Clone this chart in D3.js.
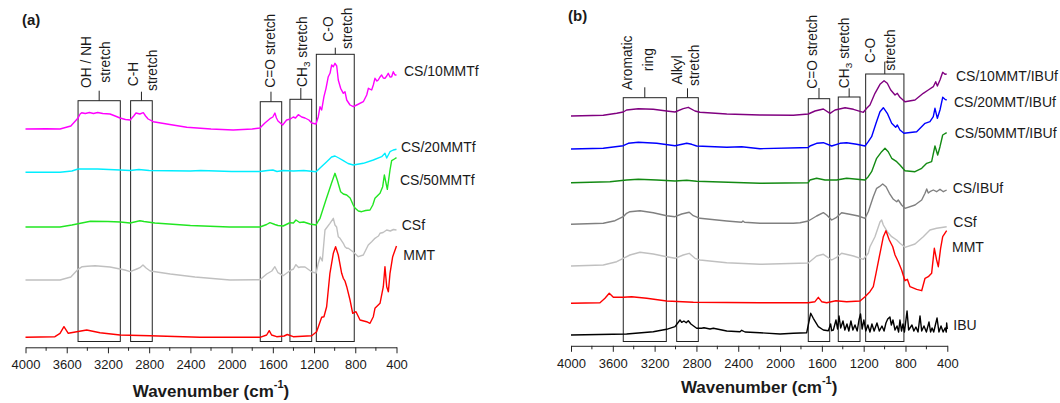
<!DOCTYPE html>
<html>
<head>
<meta charset="utf-8">
<script src="https://cdn.jsdelivr.net/npm/d3@7"></script>
<style>
  html, body { margin: 0; padding: 0; background: #fff; }
  svg { display: block; font-family: "Liberation Sans", Arial, Helvetica, sans-serif; }
</style>
</head>
<body>
<svg id="chart" width="1060" height="403"></svg>
<script>
// ---------------- data ----------------
// wavenumber axis (cm-1)
const majorTicks = [4000, 3600, 3200, 2800, 2400, 2000, 1600, 1200, 800, 400];
const minorTicks = [3800, 3400, 3000, 2600, 2200, 1800, 1400, 1000, 600];

// Panel (a): stacked FTIR spectra, [wavenumber, offset intensity (a.u.)]
const namesA = ["CS/10MMTf", "CS/20MMTf", "CS/50MMTf", "CSf", "MMT"];

const cs10mmtf = [[4000,218],[3800,218.3],[3665,218],[3560,221],[3490,229],[3470,233],[3455,234.3],[3420,233.5],[3380,234.5],[3340,233.5],[3300,234.5],[3250,233.5],[3180,233],[3130,231],[3083,229],[3030,227.5],[2985,227],[2950,231],[2928,234],[2890,233],[2857,234.3],[2835,231],[2810,228],[2760,225.3],[2600,222.5],[2435,219.7],[2200,218],[1985,217],[1800,218],[1725,219],[1677,224],[1628,228.3],[1600,230],[1580,234],[1565,229],[1550,226],[1505,222],[1466,227],[1430,228],[1402,230],[1380,229],[1353,232.3],[1320,230],[1288,229],[1250,227],[1223,224],[1181,223],[1159,230.3],[1142,240.3],[1126,237],[1104,250.3],[1084,258.7],[1062,270.3],[1045,273.7],[1029,282],[1013,280.3],[997,283.7],[980,281],[965,267],[942,258.7],[916,253.7],[900,255.3],[883,247],[851,242],[819,240.3],[786,242],[722,245.3],[689,252],[673,258.7],[641,257],[625,262],[609,268.7],[590,266],[577,267],[560,270],[544,272],[528,269],[512,268.7],[495,271],[480,273.7],[463,270],[447,270.3],[431,275.3],[415,272],[400,272]];

const cs20mmtf = [[4000,174.7],[3665,174.7],[3550,176],[3490,178],[3300,178],[3083,177],[2985,176.5],[2900,177.5],[2800,176.5],[2400,176],[2300,176.5],[2000,175.5],[1725,175.5],[1650,176.5],[1600,177],[1560,175.5],[1500,176.5],[1400,176],[1300,176.5],[1180,175.3],[1142,179],[1077,185.3],[1030,190],[997,191],[960,189],[916,186.3],[870,183.5],[819,182],[722,183.7],[625,187],[544,190.3],[512,193.7],[495,189],[463,195.3],[431,197],[400,197.7]];

const cs50mmtf = [[4000,120],[3665,120],[3550,122],[3370,125.7],[3200,125.5],[3080,125],[2985,124],[2890,126.3],[2850,125.5],[2745,124],[2400,121.5],[2020,120],[1725,120],[1660,122.5],[1628,124.3],[1580,122.5],[1550,121.5],[1500,121],[1450,123.5],[1434,124.3],[1400,124],[1376,127],[1340,124.5],[1300,125],[1240,123],[1180,122],[1159,126],[1142,128.7],[1085,147],[1030,164],[997,173.7],[975,167],[942,155.3],[916,153],[883,152],[850,149],[820,142],[803,139],[770,136],[738,135.3],[700,136.5],[657,137],[630,142],[609,148.7],[560,153.7],[534,160.3],[518,172],[489,157.7],[463,177],[447,186.3],[420,188],[400,189.3]];

const csfA = [[4000,67],[3665,67],[3560,70],[3490,77.7],[3450,80.3],[3400,80.8],[3325,81.3],[3180,80],[3035,77],[2985,75.3],[2920,78],[2890,79.3],[2860,82],[2830,79],[2790,76],[2595,73],[2355,70],[2015,67],[1725,67.3],[1660,73],[1610,76],[1580,80.3],[1550,74.3],[1500,71.3],[1434,76.3],[1400,78],[1376,82.3],[1350,79.5],[1330,80],[1288,80],[1220,75],[1180,74],[1159,83.7],[1140,90],[1120,86],[1094,117],[1046,123.7],[1013,128.7],[997,122],[981,120],[965,110.3],[948,108.7],[916,103.7],[900,100.3],[883,98.7],[868,98.7],[819,95],[771,90.3],[722,92],[674,102],[641,105.3],[609,108.7],[590,110],[575,111],[560,113.7],[530,114.5],[495,117],[460,116],[430,117.5],[400,117]];

const mmtA = [[4000,9.7],[3714,10.3],[3665,13.7],[3627,20.3],[3585,13.7],[3503,15.3],[3406,17],[3277,14.3],[3083,12],[2792,11.3],[2307,9.7],[1725,9.7],[1660,12],[1635,16.3],[1612,12],[1563,10.3],[1490,11],[1460,12.5],[1402,10.3],[1223,11.3],[1175,15.3],[1126,29.7],[1104,30.3],[1078,40.3],[1046,73.7],[1013,93.7],[991,100.3],[965,92],[932,73.7],[916,68.7],[900,66],[883,60.3],[851,47],[825,33.7],[793,35.3],[754,27],[690,25.3],[657,23.7],[625,30.3],[609,38.7],[560,43.7],[528,60.3],[512,80.3],[495,60.3],[479,55.3],[463,73.7],[437,90.3],[400,101]];

// Panel (b)
const namesB = ["CS/10MMT/IBUf", "CS/20MMT/IBUf", "CS/50MMT/IBUf", "CS/IBUf", "CSf", "MMT", "IBU"];

const cs10mmtIbuf = [[4000,231],[3691,231.7],[3563,233.7],[3500,235],[3468,237],[3356,238.3],[3213,237.7],[3085,236],[3005,235],[2926,238.3],[2878,239.7],[2814,236],[2766,234.7],[2510,233],[2192,232],[1873,231.7],[1730,233],[1666,236],[1586,238],[1522,233.7],[1474,237],[1378,239.3],[1298,237.7],[1203,234.7],[1171,238.7],[1140,242],[1092,253.7],[1044,262.7],[1005,266.3],[974,263.7],[941,257],[900,252],[878,253.7],[853,249.7],[805,245.3],[709,247],[630,253.7],[582,257],[534,260.3],[511,265.3],[495,261],[470,267],[444,274.7],[422,272.7],[406,273]];

const cs20mmtIbuf = [[4000,198],[3691,198.7],[3500,201.3],[3452,203.7],[3356,204.7],[3180,203.7],[3005,201.3],[2926,203],[2893,203.7],[2845,202.7],[2798,201],[2510,199.7],[2367,200.3],[2192,198.3],[1809,199.3],[1730,199.5],[1714,201],[1650,203.7],[1586,204.3],[1506,201],[1427,203.7],[1363,204.3],[1267,202.7],[1187,201],[1156,205.3],[1124,210.3],[1082,223.7],[1044,235.3],[1012,239.3],[974,233.7],[932,223.7],[894,219.7],[878,222],[853,217],[815,213.7],[693,215.3],[613,223.7],[566,225.3],[534,230.3],[518,238.7],[495,228.7],[470,237],[444,249.7],[422,247.7],[406,247]];

const cs50mmtIbuf = [[4000,164.3],[3627,165.3],[3468,167],[3356,167.7],[3180,167],[3005,166],[2893,166.7],[2798,165.7],[2192,163.7],[1730,164.3],[1714,167],[1650,168.7],[1570,167],[1459,167],[1363,168.7],[1187,167],[1156,170.3],[1124,175.3],[1076,188.7],[1028,195.3],[996,198.7],[965,195.3],[932,188.7],[884,185.3],[853,182],[805,176.3],[709,175.3],[645,178.7],[597,183.7],[550,185.3],[518,201],[492,192],[470,200.3],[444,212],[406,214.3]];

const csIbuf = [[4000,122.7],[3691,123.7],[3579,126.3],[3500,130.3],[3468,133.7],[3436,135.3],[3340,136.3],[3213,134.3],[3085,131.3],[3005,130.3],[2941,133],[2910,133.7],[2869,134.7],[2830,131.3],[2766,128.7],[2510,126],[2367,124.7],[2355,126],[2340,124.7],[2192,123.7],[1873,123.7],[1809,124.3],[1730,126],[1650,131],[1586,134.3],[1554,132],[1506,127],[1459,129.7],[1411,134.3],[1347,133],[1298,132],[1251,131],[1187,128.7],[1156,135.3],[1140,140.3],[1108,150.3],[1076,158.7],[1050,160.3],[1018,163],[986,160.3],[954,153.7],[916,147.7],[884,145.3],[869,147],[837,142],[805,138.7],[709,142],[645,147],[613,153.7],[597,158],[582,154],[566,155.3],[534,157],[502,155.3],[470,157.7],[438,155.3],[406,157]];

const csfB = [[4000,81],[3691,82],[3563,85.3],[3500,88.7],[3436,92],[3340,94.7],[3213,93],[3085,90.3],[3005,88.7],[2926,92],[2869,93.7],[2814,88.7],[2766,87],[2510,84.3],[2192,82.7],[1730,84],[1650,91],[1586,92.7],[1506,87],[1459,89.7],[1411,93.7],[1298,91],[1203,87.7],[1156,93.7],[1140,100.3],[1092,110.3],[1044,125],[1028,127],[1012,122],[974,115.3],[932,110.3],[884,107],[853,103.7],[805,99.7],[709,103],[630,110.3],[566,117],[502,118.7],[406,120.3]];

const mmtB = [[4000,43.7],[3723,44.3],[3675,48.7],[3634,53.7],[3595,49.7],[3500,49.7],[3420,50.3],[3276,48.7],[3085,46],[2830,44.7],[2192,44.3],[1730,44.3],[1666,45.3],[1634,49.7],[1602,45.3],[1554,44.3],[1465,46.3],[1363,45.3],[1235,46],[1187,50.3],[1140,55.3],[1108,60.3],[1082,73.7],[1044,93.7],[1012,110.3],[987,116.3],[955,107],[922,100.3],[900,92],[869,85.3],[837,77],[805,66.3],[782,67.7],[757,60.3],[693,57.7],[645,56.3],[613,68.7],[582,70.3],[550,73.7],[524,98.7],[502,87],[486,80.3],[464,98.7],[444,110.3],[406,116.3]];

const ibu = [[4000,12],[3468,13],[3213,15.3],[3085,17.7],[3005,20.3],[2957,27],[2941,24.7],[2920,26],[2898,24.3],[2878,26.3],[2853,23],[2798,18.7],[2750,18.7],[2728,19.3],[2670,18],[2638,18.7],[2510,16],[2383,15.3],[2367,16.7],[2335,15],[2192,14.3],[2000,13],[1873,13.7],[1745,14.3],[1730,22],[1707,33.7],[1682,28.7],[1634,20.3],[1586,17],[1538,16.3],[1516,23],[1506,16.3],[1490,17],[1465,27],[1450,18],[1436,31],[1420,19],[1398,26],[1380,17],[1360,23],[1342,16],[1322,26],[1303,17],[1283,22],[1262,16],[1245,27],[1230,33],[1215,18],[1198,27],[1180,16],[1160,22],[1140,15],[1121,23],[1100,16],[1073,24],[1050,16],[1025,21],[1005,16],[987,24],[970,28],[949,30],[935,22],[920,27],[900,17],[881,21],[866,15],[853,27],[838,16],[824,23],[810,15],[785,36],[770,17],[738,22],[720,16],[700,20],[680,15],[661,31],[645,16],[623,21],[600,15],[575,25],[560,15],[546,19],[530,15],[498,29],[480,15],[460,21],[440,15],[421,19],[410,15],[406,24],[400,18]];

// Band annotations: [upper wavenumber, lower wavenumber, box top (a.u.)]
const bandFloor = 5.5;
const bandsA = [[3490, 3080, 246.3], [2980, 2770, 246.3], [1722, 1514, 245.3], [1434, 1223, 247.7], [1178, 810, 292.7]];
const bandTextA = [["OH / NH", "stretch"], ["C-H", "stretch"], ["C=O stretch"], ["CH_3 stretch"], ["C-O", "stretch"]];
const bandsB = [[3500, 3088, 249.3], [2989, 2782, 249.3], [1730, 1525, 248.3], [1443, 1235, 250], [1181, 815, 273]];
const bandTextB = [["Aromatic", "ring"], ["Alkyl", "stretch"], ["C=O stretch"], ["CH_3 stretch"], ["C-O", "stretch"]];

// ---------------- layout & style ----------------
const layoutA = {
  xRange: [25.5, 396.5], axisY: 347.3, titleY: 390.7,
  panelLabel: "(a)", panelLabelPos: [22, 19.5],
  colors: ["#ff00ff", "#00eeff", "#22e622", "#c0c0c0", "#ff0000"],
  labelPos: [[404, 70.7], [401, 146.7], [400, 180], [401.7, 225], [403.3, 255]],
  tickTop: [90.7, 91.7, 91.7, 88, 47.7],
  // per band: [dx from band centre, vertical centre] for each text line
  textPos: [[[-12.8, 62], [5.5, 62]], [[-8.2, 74], [10.2, 70.3]], [[-1, 50.7]], [[0.9, 51.7]], [[-7, 29], [11.4, 28.3]]]
};
const layoutB = {
  xRange: [571, 947.3], axisY: 345.8, titleY: 387.3,
  panelLabel: "(b)", panelLabelPos: [568, 15],
  colors: ["#800080", "#0000ff", "#138a13", "#808080", "#c0c0c0", "#ff0000", "#000000"],
  labelPos: [[956, 76], [954, 101.7], [954.7, 132.7], [952.7, 188.3], [953.3, 222.3], [952, 247.3], [953.3, 325]],
  tickTop: [87.3, 88.3, 88, 88.3, 61.7],
  textPos: [[[-17.5, 62.8], [3.5, 59.7]], [[-10.8, 70], [6.5, 65.3]], [[-7.3, 51.7]], [[-4.9, 52.8]], [[-14.8, 50.3], [5.2, 50]]]
};

const ink = "#1a1a1a";
const svg = d3.select("#chart");

// text with "_n" subscripts
function richText(sel, str, size) {
  const parts = str.split("_");
  sel.append("tspan").text(parts[0]);
  for (let i = 1; i < parts.length; i++) {
    sel.append("tspan").attr("font-size", size * 0.72).attr("dy", size * 0.3).text(parts[i][0]);
    sel.append("tspan").attr("font-size", size).attr("dy", -size * 0.3).text(parts[i].slice(1));
  }
}

function drawPanel(series, names, bands, bandText, L) {
  const g = svg.append("g");
  const x = d3.scaleLinear().domain([4000, 400]).range(L.xRange);
  const y = d3.scaleLinear().domain([0, 300]).range([347, 47]);

  // highlighted spectral regions
  bands.forEach((b, i) => {
    const x0 = x(b[0]), x1 = x(b[1]), cx = (x0 + x1) / 2;
    g.append("rect")
      .attr("x", x0).attr("y", y(b[2]))
      .attr("width", x1 - x0).attr("height", y(bandFloor) - y(b[2]))
      .attr("fill", "none").attr("stroke", "#222").attr("stroke-width", 1);
    g.append("line")
      .attr("x1", cx).attr("x2", cx).attr("y1", y(b[2])).attr("y2", L.tickTop[i])
      .attr("stroke", "#222").attr("stroke-width", 1);
    bandText[i].forEach((t, j) => {
      const [dx, cy] = L.textPos[i][j];
      const txt = g.append("text")
        .attr("transform", `translate(${cx + dx},${cy}) rotate(-90)`)
        .attr("text-anchor", "middle").attr("dominant-baseline", "central")
        .attr("font-size", 13.8).attr("fill", ink);
      richText(txt, t, 13.8);
    });
  });

  // spectra
  const line = d3.line().x(d => x(d[0])).y(d => y(d[1]));
  series.forEach((s, i) => {
    g.append("path").datum(s)
      .attr("d", line)
      .attr("fill", "none")
      .attr("stroke", L.colors[i])
      .attr("stroke-width", 1.4)
      .attr("stroke-linejoin", "round");
  });

  // series names
  names.forEach((n, i) => {
    g.append("text")
      .attr("x", L.labelPos[i][0]).attr("y", L.labelPos[i][1])
      .attr("dominant-baseline", "central")
      .attr("font-size", 14).attr("fill", ink)
      .text(n);
  });

  // wavenumber axis
  const axis = g.append("g").attr("transform", `translate(0,${L.axisY})`)
    .call(d3.axisBottom(x).tickValues(majorTicks).tickFormat(d3.format("d"))
      .tickSize(6).tickSizeOuter(0).tickPadding(6.5));
  axis.select(".domain").attr("stroke", "#222");
  axis.selectAll(".tick line").attr("stroke", "#222");
  axis.selectAll(".tick text").attr("font-size", 13).attr("fill", ink)
    .attr("font-family", "'Liberation Sans', Arial, sans-serif");
  g.append("g").attr("transform", `translate(0,${L.axisY})`)
    .selectAll("line").data(minorTicks).join("line")
    .attr("x1", d => x(d)).attr("x2", d => x(d)).attr("y1", 0).attr("y2", 3.5)
    .attr("stroke", "#222");

  // axis title
  const title = g.append("text")
    .attr("x", (L.xRange[0] + L.xRange[1]) / 2).attr("y", L.titleY)
    .attr("text-anchor", "middle").attr("dominant-baseline", "central")
    .attr("font-size", 17).attr("font-weight", "bold").attr("fill", ink);
  title.append("tspan").text("Wavenumber (cm");
  title.append("tspan").attr("font-size", 11).attr("dy", -7).text("-1");
  title.append("tspan").attr("font-size", 17).attr("dy", 7).text(")");

  // panel letter
  g.append("text")
    .attr("x", L.panelLabelPos[0]).attr("y", L.panelLabelPos[1])
    .attr("dominant-baseline", "central")
    .attr("font-size", 15).attr("font-weight", "bold").attr("fill", ink)
    .text(L.panelLabel);
}

drawPanel([cs10mmtf, cs20mmtf, cs50mmtf, csfA, mmtA], namesA, bandsA, bandTextA, layoutA);
drawPanel([cs10mmtIbuf, cs20mmtIbuf, cs50mmtIbuf, csIbuf, csfB, mmtB, ibu], namesB, bandsB, bandTextB, layoutB);
</script>
</body>
</html>
